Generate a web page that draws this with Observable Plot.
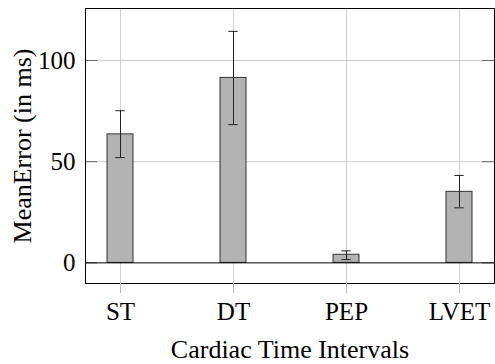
<!DOCTYPE html>
<html><head><meta charset="utf-8">
<script src="https://cdn.jsdelivr.net/npm/d3@7"></script>
<script src="https://cdn.jsdelivr.net/npm/@observablehq/plot@0.6"></script>
<style>body{margin:0;background:#fff}svg{display:block}</style>
</head><body><div id="chart"></div>
<script>
const categories = ["ST", "DT", "PEP", "LVET"];
const meanError = [63.5, 91.4, 4.0, 35.1];
const errorLow = [52.0, 68.3, 1.6, 27.2];
const errorHigh = [75.2, 114.4, 5.9, 43.2];
const yTicks = [0, 50, 100];

const data = categories.map((c, i) => ({c, v: meanError[i], lo: errorLow[i], hi: errorHigh[i]}));
const font = "'Liberation Serif', 'Times New Roman', serif";
const W = 495, H = 364;

const plot = Plot.plot({
  width: W, height: H,
  marginLeft: 85, marginRight: 1, marginTop: 8, marginBottom: 81,
  style: {fontFamily: font, fontSize: "25px", background: "white"},
  x: {domain: categories, paddingInner: 0.766, paddingOuter: 0.183},
  y: {domain: [-10.2, 125.7]},
  marks: [
    Plot.gridX(categories, {stroke: "#cfcfcf", strokeOpacity: 1}),
    Plot.gridY(yTicks.filter(d => d !== 0), {stroke: "#cfcfcf", strokeOpacity: 1}),
    Plot.ruleY(yTicks, {insetRight: W - 86 - 12, stroke: "#666"}),
    Plot.ruleY(yTicks, {insetLeft: W - 86 - 12, stroke: "#666"}),
    Plot.barY(data, {x: "c", y: "v", fill: "#b3b3b3", stroke: "#333", strokeWidth: 1}),
    Plot.ruleY([0], {stroke: "black"}),
    Plot.ruleX(data, {x: "c", y1: "lo", y2: "hi", stroke: "#222"}),
    Plot.tickY(data, {x: "c", y: "lo", stroke: "#222", insetLeft: 8.3, insetRight: 8.3}),
    Plot.tickY(data, {x: "c", y: "hi", stroke: "#222", insetLeft: 8.3, insetRight: 8.3}),
    Plot.frame({stroke: "black"}),
    Plot.axisX({tickSize: 10, tickPadding: 9, stroke: "#bbb", fill: "black", label: null, fontSize: 25}),
    Plot.axisY(yTicks, {tickSize: 0, tickPadding: 10, label: null, fill: "black", fontSize: 25}),
    Plot.text(["MeanError (in ms)"], {frameAnchor: "left", dx: -63, rotate: -90, textAnchor: "middle", lineAnchor: "middle", fontSize: 26, fill: "black"}),
    Plot.text(["Cardiac Time Intervals"], {frameAnchor: "bottom", dy: 65.7, textAnchor: "middle", lineAnchor: "middle", fontSize: 26, fill: "black"})
  ]
});
document.getElementById("chart").appendChild(plot);
</script></body></html>
